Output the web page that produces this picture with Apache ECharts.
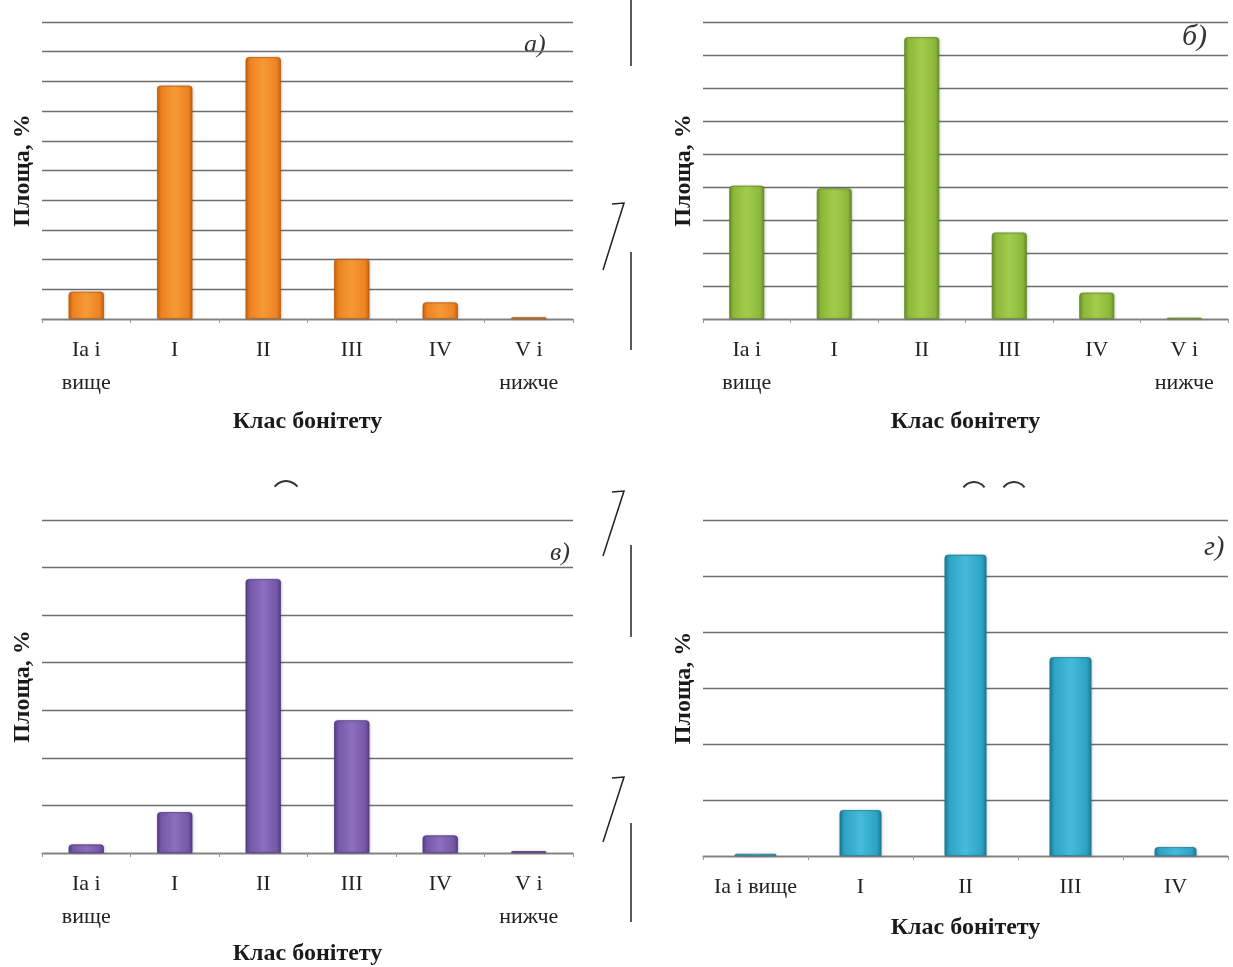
<!DOCTYPE html>
<html>
<head>
<meta charset="utf-8">
<script src="https://cdn.jsdelivr.net/npm/echarts@6/dist/echarts.min.js"></script>
<style>
html,body{margin:0;padding:0;background:#fff;}
#c{width:1233px;height:967px;}
</style>
</head>
<body>
<div id="c"></div>
<script>
// Categories
const catsSix = ['Іа і\nвище', 'І', 'ІІ', 'ІІІ', 'ІV', 'V і\nнижче'];
const catsFive = ['Іа і вище', 'І', 'ІІ', 'ІІІ', 'ІV'];
// Values (% of area)
const valuesA = [4.6, 39.3, 44.1, 10.1, 2.8, 0.3];
const valuesB = [20.2, 19.8, 42.7, 13.1, 4.0, 0.2];
const valuesC = [1.8, 8.6, 57.6, 27.9, 3.7, 0.4];
const valuesD = [0.4, 8.2, 53.8, 35.5, 1.6];
// Axis maxima / steps
const yMax = [50, 45, 70, 60];
const yStep = [5, 5, 10, 10];
const panelTags = ['а)', 'б)', 'в)', 'г)'];
const yName = 'Площа, %';
const xName = 'Клас бонітету';

const SERIF = '"Liberation Serif", "DejaVu Serif", serif';

function grad(edge, mid, light) {
  return new echarts.graphic.LinearGradient(0, 0, 1, 0, [
    {offset: 0, color: edge},
    {offset: 0.12, color: mid},
    {offset: 0.5, color: light},
    {offset: 0.88, color: mid},
    {offset: 1, color: edge}
  ]);
}
const colors = [
  grad('#c4620c', '#ee8220', '#f59a38'),
  grad('#6a8f24', '#8cb83a', '#a2cc4c'),
  grad('#553c84', '#7657a8', '#8c6fc0'),
  grad('#1c7a94', '#2ea4c4', '#45bcdc')
];
const borderCols = ['#b85a0a', '#62862a', '#4e3a7c', '#1f7890'];

const grids = [
  {left: 42, top: 22, width: 531, height: 297},
  {left: 703, top: 22, width: 525, height: 297},
  {left: 42, top: 520, width: 531, height: 333},
  {left: 703, top: 520, width: 525, height: 336}
];
const data = [valuesA, valuesB, valuesC, valuesD];
const cats = [catsSix, catsSix, catsSix, catsFive];
const xNameGap = [91, 91, 89, 60];

const xAxis = [], yAxis = [], series = [];
for (let i = 0; i < 4; i++) {
  xAxis.push({
    type: 'category', gridIndex: i, data: cats[i],
    name: xName, nameLocation: 'middle', nameGap: xNameGap[i],
    nameTextStyle: {fontFamily: SERIF, fontWeight: 'bold', fontSize: 24, color: '#1a1a1a'},
    axisLine: {lineStyle: {color: '#808080', width: 1.3}},
    axisTick: {show: true, length: 4, lineStyle: {color: '#9a9a9a'}},
    axisLabel: {fontFamily: SERIF, fontSize: 22, color: '#222', margin: 15, lineHeight: 33, interval: 0}
  });
  yAxis.push({
    type: 'value', gridIndex: i, min: 0, max: yMax[i], interval: yStep[i],
    name: yName, nameLocation: 'middle', nameRotate: 90, nameGap: 7,
    nameTextStyle: {fontFamily: SERIF, fontWeight: 'bold', fontSize: 24, color: '#1a1a1a'},
    axisLine: {show: false}, axisTick: {show: false}, axisLabel: {show: false},
    splitLine: {lineStyle: {color: '#6e6e6e', width: 1.4}}
  });
  series.push({
    type: 'bar', xAxisIndex: i, yAxisIndex: i, data: data[i],
    barCategoryGap: '60%',
    itemStyle: {color: colors[i], borderColor: borderCols[i], borderWidth: 0.8, borderRadius: [3, 3, 0, 0],
      shadowColor: 'rgba(0,0,0,0.15)', shadowBlur: 3, shadowOffsetX: 1},
    silent: true
  });
}

const tagPos = [
  {x: 540, y: 45, size: 26},
  {x: 1198, y: 37, size: 30},
  {x: 566, y: 553, size: 26},
  {x: 1220, y: 548, size: 28}
];
const graphic = tagPos.map((p, i) => ({
  type: 'text', left: p.x - 16, top: p.y - p.size / 2,
  style: {text: panelTags[i], font: 'italic ' + p.size + 'px ' + SERIF, fill: '#333'}
}));
// scan decorations
const deco = [
  [[631, 0], [631, 66]],
  [[631, 252], [631, 350]],
  [[631, 545], [631, 637]],
  [[631, 823], [631, 922]],
  [[612, 204], [624, 203], [603, 270]],
  [[612, 492], [624, 491], [603, 556]],
  [[612, 778], [624, 777], [603, 842]]
];
deco.forEach(pts => graphic.push({
  type: 'polyline', shape: {points: pts}, style: {stroke: '#222', lineWidth: 1.5, fill: null}
}));
graphic.push({type: 'arc', shape: {cx: 286, cy: 495, r: 14, startAngle: Math.PI * 1.2, endAngle: Math.PI * 1.8}, style: {stroke: '#333', lineWidth: 2, fill: null}});
graphic.push({type: 'arc', shape: {cx: 974, cy: 495, r: 13, startAngle: Math.PI * 1.2, endAngle: Math.PI * 1.8}, style: {stroke: '#333', lineWidth: 2, fill: null}});
graphic.push({type: 'arc', shape: {cx: 1014, cy: 495, r: 13, startAngle: Math.PI * 1.2, endAngle: Math.PI * 1.8}, style: {stroke: '#333', lineWidth: 2, fill: null}});

const chart = echarts.init(document.getElementById('c'), null, {renderer: 'canvas'});
chart.setOption({
  animation: false,
  backgroundColor: '#ffffff',
  grid: grids,
  xAxis: xAxis,
  yAxis: yAxis,
  series: series,
  graphic: graphic
});
</script>
</body>
</html>
